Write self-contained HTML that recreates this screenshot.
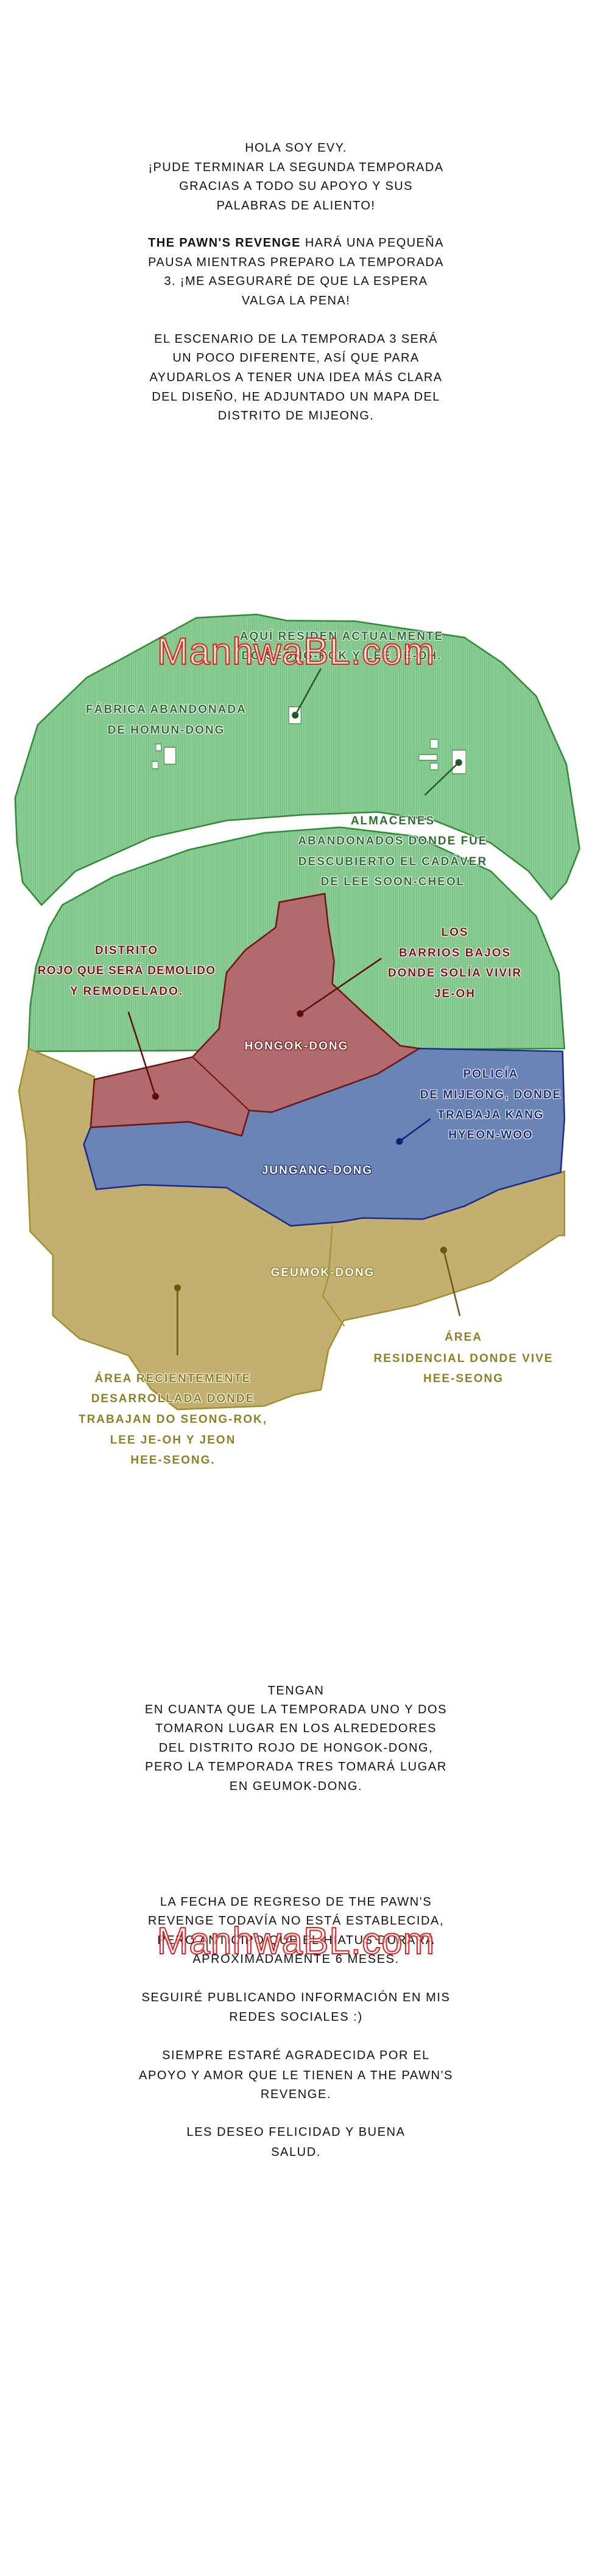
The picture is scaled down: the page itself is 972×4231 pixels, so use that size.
<!DOCTYPE html>
<html><head><meta charset="utf-8">
<style>
html,body{margin:0;padding:0;background:#fff}
body{width:972px;height:4231px;position:relative;overflow:hidden;font-family:"Liberation Sans",sans-serif}
.t{position:absolute;left:186px;width:600px;text-align:center;font-size:20px;line-height:22px;letter-spacing:1.4px;color:#111;white-space:nowrap}
.b{position:absolute;left:136px;width:700px;text-align:center;font-size:20px;line-height:22px;letter-spacing:1.6px;color:#111;white-space:nowrap}
.l{position:absolute;width:600px;text-align:center;font-size:19px;line-height:20px;letter-spacing:2px;white-space:nowrap;font-weight:bold}
.g{color:#2f6d33;text-shadow:-1px -1px 0 #fff,1px -1px 0 #fff,-1px 1px 0 #fff,1px 1px 0 #fff}
.r{color:#7a1414;text-shadow:-1px -1px 0 #fff,1px -1px 0 #fff,-1px 1px 0 #fff,1px 1px 0 #fff}
.bl{color:#1b2b86;text-shadow:-1px -1px 0 #fff,1px -1px 0 #fff,-1px 1px 0 #fff,1px 1px 0 #fff}
.br{color:#8f7f22;text-shadow:-1px -1px 0 #fff,1px -1px 0 #fff,-1px 1px 0 #fff,1px 1px 0 #fff}
.w{color:#fff}
.wr{text-shadow:-1px -1px 0 #6a1010,1px -1px 0 #6a1010,-1px 1px 0 #6a1010,1px 1px 0 #6a1010}
.wb{text-shadow:-1px -1px 0 #0f1d6a,1px -1px 0 #0f1d6a,-1px 1px 0 #0f1d6a,1px 1px 0 #0f1d6a}
.wy{text-shadow:-1px -1px 0 #8a7a1a,1px -1px 0 #8a7a1a,-1px 1px 0 #8a7a1a,1px 1px 0 #8a7a1a}
.wm{position:absolute;left:237px;width:498px;text-align:center;font-size:62px;line-height:62px;color:rgba(255,255,255,0.6);-webkit-text-stroke:2px #e02020;letter-spacing:1px;white-space:nowrap}
</style></head><body>

<div class="t" style="top:232px">HOLA SOY EVY.</div>
<div class="t" style="top:264px">¡PUDE TERMINAR LA SEGUNDA TEMPORADA</div>
<div class="t" style="top:295px">GRACIAS A TODO SU APOYO Y SUS</div>
<div class="t" style="top:327px">PALABRAS DE ALIENTO!</div>
<div class="t" style="top:388px"><b>THE PAWN'S REVENGE</b> HARÁ UNA PEQUEÑA</div>
<div class="t" style="top:420px">PAUSA MIENTRAS PREPARO LA TEMPORADA</div>
<div class="t" style="top:451px">3. ¡ME ASEGURARÉ DE QUE LA ESPERA</div>
<div class="t" style="top:483px">VALGA LA PENA!</div>
<div class="t" style="top:546px">EL ESCENARIO DE LA TEMPORADA 3 SERÁ</div>
<div class="t" style="top:577px">UN POCO DIFERENTE, ASÍ QUE PARA</div>
<div class="t" style="top:609px">AYUDARLOS A TENER UNA IDEA MÁS CLARA</div>
<div class="t" style="top:641px">DEL DISEÑO, HE ADJUNTADO UN MAPA DEL</div>
<div class="t" style="top:672px">DISTRITO DE MIJEONG.</div>

<svg style="position:absolute;left:0;top:950px" width="972" height="1450" viewBox="0 0 1568 1568" preserveAspectRatio="none">
<defs>
<pattern id="st" patternUnits="userSpaceOnUse" width="5" height="10">
<rect width="5" height="10" fill="#79c184"/><rect width="1.8" height="10" fill="#9ad6a2"/>
</pattern>
</defs>
<path d="M45,470 L40,390 L100,260 L230,176 L330,140 L520,70 L680,64 L760,75 L940,76 L1230,105 L1330,150 L1420,209 L1500,330 L1535,480 L1500,540 L1460,570 L1400,520 L1300,470 L1150,430 L1000,415 L800,420 L600,430 L400,460 L200,520 L110,580 L60,540 Z" fill="url(#st)" stroke="#2f8a36" stroke-width="2.5" vector-effect="non-scaling-stroke"/>
<path d="M75,840 L80,760 L95,690 L130,620 L165,580 L300,530 L500,482 L700,452 L900,442 L1100,458 L1300,520 L1420,600 L1480,700 L1495,835 Z" fill="url(#st)" stroke="#2f8a36" stroke-width="2.5" vector-effect="non-scaling-stroke"/>
<path d="M75,835 L250,885 L245,975 L222,1005 L255,1085 L380,1077 L600,1082 L770,1150 L900,1143 L960,1136 L1120,1138 L1230,1115 L1320,1086 L1495,1053 L1495,1167 L1480,1167 L1300,1247 L1100,1291 L910,1318 L870,1370 L850,1441 L780,1450 L700,1470 L470,1476 L400,1440 L340,1380 L210,1350 L140,1309 L140,1202 L80,1160 L70,1000 L50,910 Z" fill="#c3b070" stroke="#a08f2a" stroke-width="2.5" vector-effect="non-scaling-stroke"/>
<path d="M880,1150 L870,1240 L855,1275 L912,1328" fill="none" stroke="#a08f2a" stroke-width="2" vector-effect="non-scaling-stroke"/>
<path d="M240,975 L500,965 L640,990 L660,945 L720,948 L1000,880 L1110,835 L1490,840 L1495,960 L1485,1055 L1320,1086 L1230,1115 L1120,1138 L960,1136 L900,1143 L770,1150 L600,1082 L380,1077 L255,1085 L222,1005 Z" fill="#6b84b6" stroke="#1b2a8c" stroke-width="2.5" vector-effect="non-scaling-stroke"/>
<path d="M250,890 L510,850 L580,800 L600,700 L650,660 L730,620 L740,575 L860,560 L870,620 L885,680 L880,720 L960,770 L1060,830 L1110,835 L1000,880 L720,948 L660,945 L640,990 L500,965 L240,975 Z" fill="#b26a6d" stroke="#6e1515" stroke-width="2.5" vector-effect="non-scaling-stroke"/>
<path d="M510,850 L660,945" fill="none" stroke="#6e1515" stroke-width="2" vector-effect="non-scaling-stroke"/>
<g fill="#fff" stroke="#4a8a4a" stroke-width="1.5" vector-effect="non-scaling-stroke">
<rect x="435" y="300" width="30" height="30"/><rect x="413" y="294" width="14" height="12"/><rect x="403" y="325" width="16" height="13"/>
<rect x="765" y="228" width="32" height="30"/>
<rect x="1140" y="286" width="20" height="16"/><rect x="1110" y="313" width="48" height="10"/><rect x="1140" y="328" width="20" height="12"/>
<rect x="1198" y="305" width="36" height="42"/>
</g>
<g stroke-width="2.5">
<line x1="782" y1="243" x2="850" y2="160" stroke="#1e5a24" vector-effect="non-scaling-stroke"/>
<line x1="1215" y1="327" x2="1125" y2="385" stroke="#1e5a24" vector-effect="non-scaling-stroke"/>
<line x1="412" y1="920" x2="340" y2="770" stroke="#5a0d0d" vector-effect="non-scaling-stroke"/>
<line x1="795" y1="773" x2="1010" y2="675" stroke="#5a0d0d" vector-effect="non-scaling-stroke"/>
<line x1="1058" y1="1000" x2="1140" y2="960" stroke="#10207a" vector-effect="non-scaling-stroke"/>
<line x1="470" y1="1260" x2="470" y2="1380" stroke="#6a5a10" vector-effect="non-scaling-stroke"/>
<line x1="1175" y1="1193" x2="1218" y2="1310" stroke="#6a5a10" vector-effect="non-scaling-stroke"/>
</g>
<ellipse cx="782" cy="243" rx="9" ry="6" fill="#1e5a24"/>
<ellipse cx="1215" cy="327" rx="9" ry="6" fill="#1e5a24"/>
<ellipse cx="412" cy="920" rx="9" ry="6" fill="#5a0d0d"/>
<ellipse cx="795" cy="773" rx="9" ry="6" fill="#5a0d0d"/>
<ellipse cx="1058" cy="1000" rx="9" ry="6" fill="#10207a"/>
<ellipse cx="470" cy="1260" rx="9" ry="6" fill="#6a5a10"/>
<ellipse cx="1175" cy="1193" rx="9" ry="6" fill="#6a5a10"/>
</svg>

<div class="l g" style="left:261px;top:1036px">AQUÍ RESIDEN ACTUALMENTE</div>
<div class="l g" style="left:261px;top:1068px">DO SEONG-ROK Y LEE JE-OH.</div>
<div class="wm" style="top:1040px">ManhwaBL.com</div>
<div class="l g" style="left:-27px;top:1156px">FÁBRICA ABANDONADA</div>
<div class="l g" style="left:-27px;top:1190px">DE HOMUN-DONG</div>
<div class="l g" style="left:345px;top:1339px">ALMACENES</div>
<div class="l g" style="left:345px;top:1372px">ABANDONADOS DONDE FUE</div>
<div class="l g" style="left:345px;top:1406px">DESCUBIERTO EL CADÁVER</div>
<div class="l g" style="left:345px;top:1439px">DE LEE SOON-CHEOL</div>
<div class="l r" style="left:-92px;top:1552px">DISTRITO</div>
<div class="l r" style="left:-92px;top:1585px;letter-spacing:1.2px">ROJO QUE SERÁ DEMOLIDO</div>
<div class="l r" style="left:-92px;top:1619px">Y REMODELADO.</div>
<div class="l r" style="left:447px;top:1522px">LOS</div>
<div class="l r" style="left:447px;top:1556px">BARRIOS BAJOS</div>
<div class="l r" style="left:447px;top:1589px">DONDE SOLÍA VIVIR</div>
<div class="l r" style="left:447px;top:1623px">JE-OH</div>
<div class="l w wr" style="left:187px;top:1709px">HONGOK-DONG</div>
<div class="l bl" style="left:506px;top:1755px">POLICÍA</div>
<div class="l bl" style="left:506px;top:1789px">DE MIJEONG, DONDE</div>
<div class="l bl" style="left:506px;top:1822px">TRABAJA KANG</div>
<div class="l bl" style="left:506px;top:1855px">HYEON-WOO</div>
<div class="l w wb" style="left:221px;top:1913px">JUNGANG-DONG</div>
<div class="l w wy" style="left:230px;top:2081px">GEUMOK-DONG</div>
<div class="l br" style="left:461px;top:2187px">ÁREA</div>
<div class="l br" style="left:461px;top:2222px">RESIDENCIAL DONDE VIVE</div>
<div class="l br" style="left:461px;top:2255px">HEE-SEONG</div>
<div class="l br" style="left:-16px;top:2255px">ÁREA RECIENTEMENTE</div>
<div class="l br" style="left:-16px;top:2288px">DESARROLLADA DONDE</div>
<div class="l br" style="left:-16px;top:2322px">TRABAJAN DO SEONG-ROK,</div>
<div class="l br" style="left:-16px;top:2356px">LEE JE-OH Y JEON</div>
<div class="l br" style="left:-16px;top:2389px">HEE-SEONG.</div>

<div class="b" style="top:2766px">TENGAN</div>
<div class="b" style="top:2797px">EN CUANTA QUE LA TEMPORADA UNO Y DOS</div>
<div class="b" style="top:2828px">TOMARON LUGAR EN LOS ALREDEDORES</div>
<div class="b" style="top:2860px">DEL DISTRITO ROJO DE HONGOK-DONG,</div>
<div class="b" style="top:2891px">PERO LA TEMPORADA TRES TOMARÁ LUGAR</div>
<div class="b" style="top:2923px">EN GEUMOK-DONG.</div>

<div class="b" style="top:3113px">LA FECHA DE REGRESO DE THE PAWN'S</div>
<div class="b" style="top:3144px">REVENGE TODAVÍA NO ESTÁ ESTABLECIDA,</div>
<div class="b" style="top:3176px">PERO ANTICIPO QUE EL HIATUS DURARÁ</div>
<div class="b" style="top:3207px">APROXIMADAMENTE 6 MESES.</div>
<div class="wm" style="top:3158px">ManhwaBL.com</div>
<div class="b" style="top:3270px">SEGUIRÉ PUBLICANDO INFORMACIÓN EN MIS</div>
<div class="b" style="top:3302px">REDES SOCIALES :)</div>
<div class="b" style="top:3365px">SIEMPRE ESTARÉ AGRADECIDA POR EL</div>
<div class="b" style="top:3398px">APOYO Y AMOR QUE LE TIENEN A THE PAWN'S</div>
<div class="b" style="top:3429px">REVENGE.</div>
<div class="b" style="top:3491px">LES DESEO FELICIDAD Y BUENA</div>
<div class="b" style="top:3524px">SALUD.</div>
</body></html>
